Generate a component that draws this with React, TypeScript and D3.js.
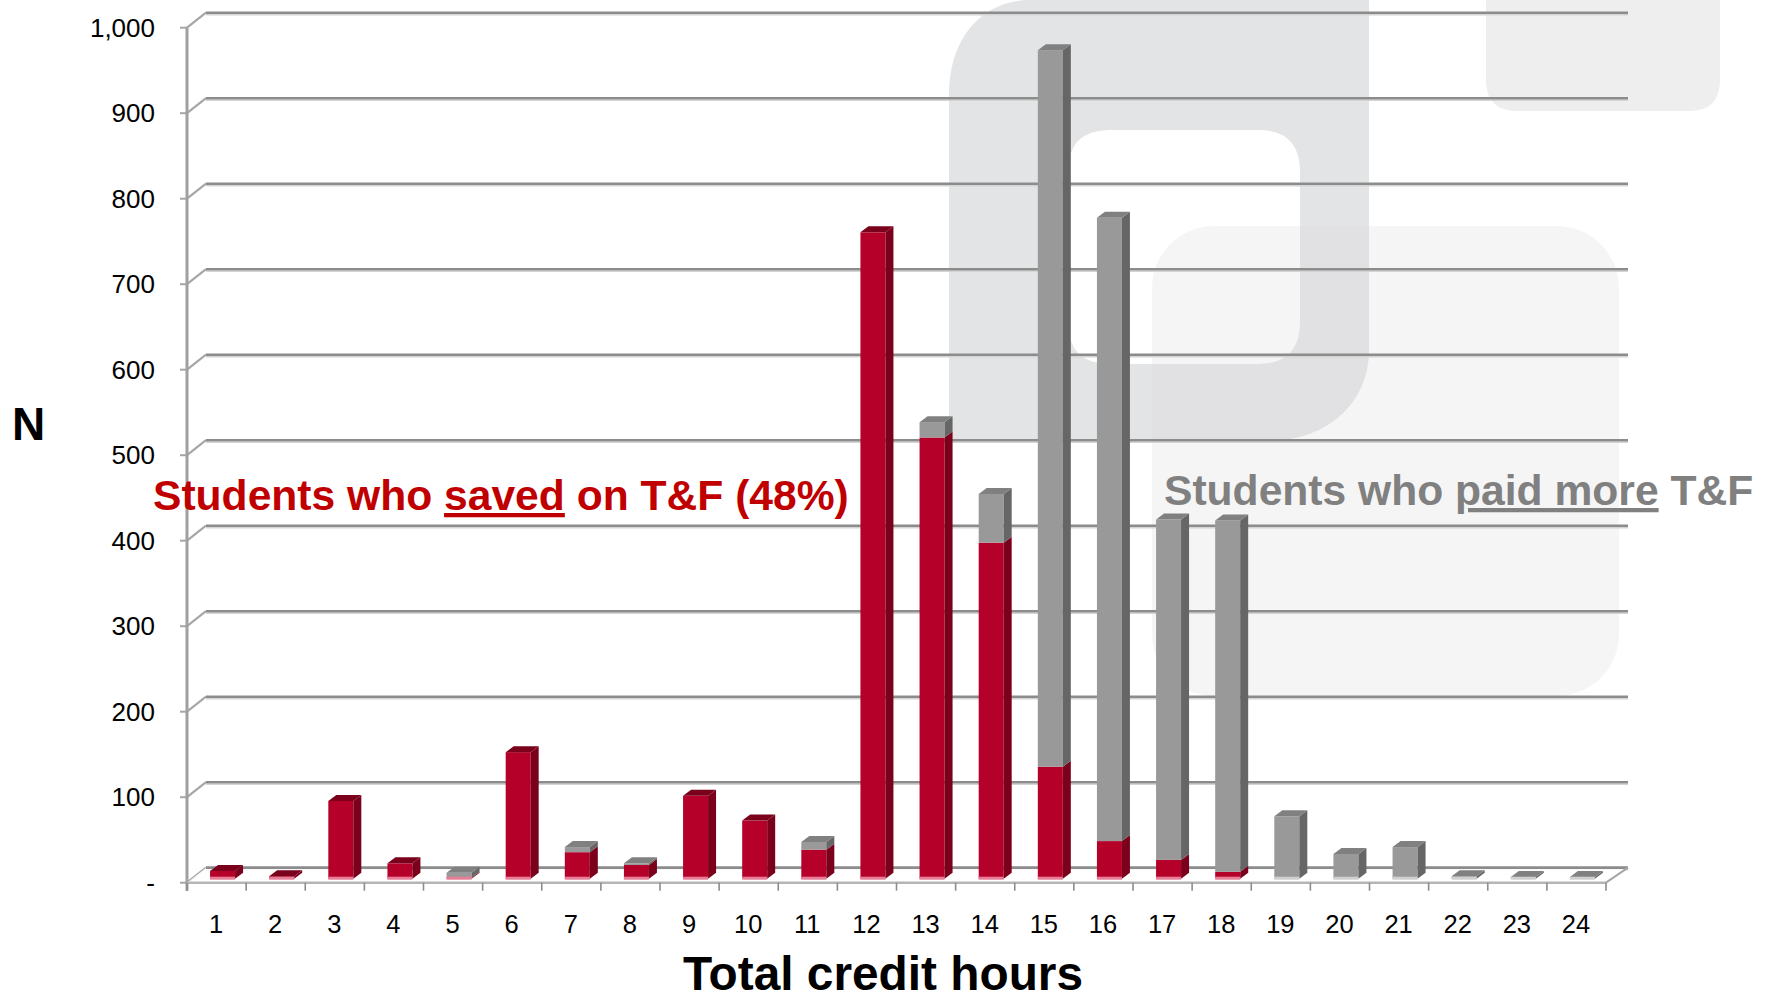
import React from "react";
import * as d3 from "d3";

const categories = d3.range(1, 25).map(String);
const savedValues = [9, 3, 91, 18, 1, 148, 31, 16, 97, 68, 34, 756, 516, 393, 131, 44, 22, 8, 0, 0, 0, 0, 0, 0];
const paidValues = [0, 0, 0, 0, 6, 0, 6, 2, 0, 0, 9, 0, 18, 57, 838, 729, 398, 411, 73, 29, 37, 3, 2, 2];
const yTicks = [0, 100, 200, 300, 400, 500, 600, 700, 800, 900, 1000];

const W = 1773, H = 995;
const DX = 19, DX_END = 22, DY = -15;
const x = d3.scaleBand<string>().domain(categories).range([187, 1606]);
const y = d3.scaleLinear().domain([0, 1000]).range([882.7, 27.7]);
const BAR_W = 25, BAR_DX = 8, BAR_DY = -6, BAR_BASE = -4, BAR_SHIFT = 6;
const pts = (p: [number, number][]) => p.map((a) => a.join(",")).join(" ");

function Bar({ cat, saved, paid }: { cat: string; saved: number; paid: number }) {
  const x0 = (x(cat) as number) + x.bandwidth() / 2 - BAR_W / 2 + BAR_SHIFT;
  const x1 = x0 + BAR_W;
  const base = y(0) + BAR_BASE;
  const ys = y(saved) + BAR_BASE;
  const yt = y(saved + paid) + BAR_BASE;
  const topFill = paid > 0 ? "#808080" : "#7a001c";
  return (
    <g>
      {saved > 0 && <rect x={x0} y={ys} width={BAR_W} height={base - ys} fill="#b5002a" />}
      {paid > 0 && <rect x={x0} y={yt} width={BAR_W} height={ys - yt} fill="#999999" />}
      {saved > 0 && (
        <polygon points={pts([[x1, base], [x1 + BAR_DX, base + BAR_DY], [x1 + BAR_DX, ys + BAR_DY], [x1, ys]])} fill="#7a001c" />
      )}
      {paid > 0 && (
        <polygon points={pts([[x1, ys], [x1 + BAR_DX, ys + BAR_DY], [x1 + BAR_DX, yt + BAR_DY], [x1, yt]])} fill="#666666" />
      )}
      <polygon points={pts([[x0, yt], [x0 + BAR_DX, yt + BAR_DY], [x1 + BAR_DX, yt + BAR_DY], [x1, yt]])} fill={topFill} />
      <rect x={x0} y={base - 2} width={BAR_W} height={3} fill={saved > 0 ? "#e87d97" : "#cfcfcf"} />
    </g>
  );
}

export default function App() {
  const left = x.range()[0], right = x.range()[1];
  const textStyle = { fontFamily: "'Liberation Sans', Arial, sans-serif" };
  return (
    <svg width={W} height={H} style={{ position: "absolute", left: 0, top: 0, display: "block" }}>
      <rect width={W} height={H} fill="#ffffff" />
      {/* watermark */}
      <path
        fillRule="evenodd"
        fill="#e3e4e6"
        d="M1369,0 V350 C1369,405 1325,441 1268,441 H949 V95 C949,35 985,0 1030,0 Z M1110,130 Q1068,130 1068,172 V322 Q1068,364 1110,364 H1258 Q1300,364 1300,322 V172 Q1300,130 1258,130 Z"
      />
      <rect x={1152} y={226} width={467} height={470} rx={62} fill="#dcdcdc" opacity={0.28} />
      <path d="M1486,0 H1720 V80 Q1720,111 1689,111 H1517 Q1486,111 1486,80 Z" fill="#eeeeee" />

      {/* gridlines at the back wall */}
      {yTicks.map((t) => (
        <g key={t}>
          <line x1={left} y1={y(t)} x2={left + DX} y2={y(t) + DY} stroke="#a6a6a6" strokeWidth={2.2} />
          <line x1={left + DX} y1={y(t) + DY + 2} x2={right + DX_END} y2={y(t) + DY + 2} stroke="#d4d4d4" strokeWidth={1.6} />
          <line x1={left + DX} y1={y(t) + DY} x2={right + DX_END} y2={y(t) + DY} stroke="#8c8c8c" strokeWidth={2.6} />
          <line x1={left - 7} y1={y(t)} x2={left} y2={y(t)} stroke="#a6a6a6" strokeWidth={2} />
          <text x={155} y={y(t) + 9} textAnchor="end" fontSize={26} fill="#000" style={textStyle}>
            {t === 0 ? "-" : d3.format(",")(t)}
          </text>
        </g>
      ))}
      {/* axes */}
      <line x1={left} y1={y(1000)} x2={left} y2={y(0) + 8} stroke="#a0a0a0" strokeWidth={3} />
      <polygon
        points={pts([[left, y(0)], [left + DX, y(0) + DY], [right + DX_END, y(0) + DY], [right, y(0)]])}
        fill="#ffffff"
        fillOpacity={0.85}
      />
      <line x1={left + DX} y1={y(0) + DY} x2={right + DX_END} y2={y(0) + DY} stroke="#8c8c8c" strokeWidth={2.6} />
      <line x1={left} y1={y(0)} x2={right} y2={y(0)} stroke="#b5b5b5" strokeWidth={2.4} />
      <line x1={right} y1={y(0)} x2={right + DX_END} y2={y(0) + DY} stroke="#a6a6a6" strokeWidth={2} />
      {d3.range(0, 25).map((i) => {
        const xt = left + i * x.step();
        return <line key={i} x1={xt} y1={y(0)} x2={xt} y2={y(0) + 8} stroke="#8c8c8c" strokeWidth={1.6} />;
      })}
      {categories.map((c, i) => (
        <Bar key={c} cat={c} saved={savedValues[i]} paid={paidValues[i]} />
      ))}
      {categories.map((c) => (
        <text key={c} x={(x(c) as number) + x.bandwidth() / 2 - 0.5} y={933} textAnchor="middle" fontSize={25.5} fill="#000" style={textStyle}>
          {c}
        </text>
      ))}
      <text x={12} y={440} fontSize={46} fontWeight={700} fill="#000" style={textStyle}>N</text>
      <text x={883} y={990} textAnchor="middle" fontSize={47.8} fontWeight={700} fill="#000" style={textStyle}>
        Total credit hours
      </text>
      <text x={153} y={510} fontSize={42.6} fontWeight={700} fill="#c00000" style={textStyle}>
        Students who <tspan textDecoration="underline">saved</tspan> on T&amp;F (48%)
      </text>
      <text x={1164} y={505} fontSize={42.6} fontWeight={700} fill="#808080" style={textStyle}>
        Students who <tspan textDecoration="underline">paid more</tspan> T&amp;F
      </text>
    </svg>
  );
}
